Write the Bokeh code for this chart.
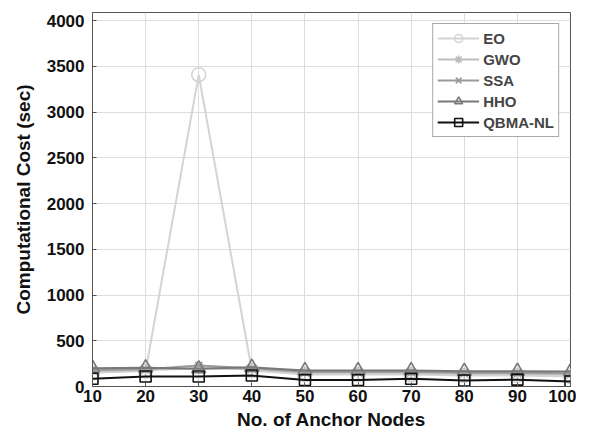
from bokeh.plotting import figure
from bokeh.models import Range1d, FixedTicker, Legend, LegendItem
from bokeh.embed import file_html
from bokeh.resources import INLINE

nodes = [10, 20, 30, 40, 50, 60, 70, 80, 90, 100]
eo = [150, 170, 3410, 175, 130, 130, 130, 120, 120, 110]
gwo = [170, 180, 200, 190, 150, 150, 150, 140, 140, 130]
ssa = [180, 190, 230, 200, 160, 160, 160, 150, 150, 145]
hho = [200, 205, 195, 210, 175, 175, 175, 168, 168, 163]
qbma = [85, 110, 110, 120, 70, 70, 85, 65, 75, 55]
y_ticks = [0, 500, 1000, 1500, 2000, 2500, 3000, 3500, 4000]

FONT = "Liberation Sans"

p = figure(width=576, height=432, output_backend="svg", toolbar_location=None,
           x_range=Range1d(10, 100), y_range=Range1d(0, 4090),
           min_border_left=92, min_border_right=6, min_border_top=12, min_border_bottom=46)
p.background_fill_color = "white"
p.outline_line_color = "#555555"
p.outline_line_width = 1

series = [
    ("EO", eo, "#d4d4d4", "circle", 14),
    ("GWO", gwo, "#bdbdbd", "asterisk", 12),
    ("SSA", ssa, "#9a9a9a", "x", 10),
    ("HHO", hho, "#787878", "triangle", 14),
    ("QBMA-NL", qbma, "#111111", "square", 11),
]
items = []
for name, ys, col, mk, sz in series:
    r1 = p.line(nodes, ys, line_color=col, line_width=2)
    r2 = p.scatter(nodes, ys, marker=mk, size=sz, line_color=col, fill_color=None, line_width=1.6)
    items.append(LegendItem(label=name, renderers=[r1, r2]))

leg = Legend(items=items, location="top_right")
leg.label_text_font = FONT
leg.label_text_font_style = "bold"
leg.label_text_font_size = "15px"
leg.glyph_width = 42
leg.glyph_height = 20
leg.spacing = 1
leg.label_height = 20
leg.padding = 4
leg.margin = 11
leg.border_line_color = "#555555"
leg.label_standoff = 4
p.add_layout(leg)

p.xaxis.ticker = FixedTicker(ticks=nodes)
p.yaxis.ticker = FixedTicker(ticks=y_ticks)
for ax in [p.xaxis, p.yaxis]:
    ax.major_label_text_font = FONT
    ax.major_label_text_font_style = "bold"
    ax.major_label_text_font_size = "17px"
    ax.axis_label_text_font = FONT
    ax.axis_label_text_font_style = "bold"
    ax.axis_label_text_font_size = "19px"
    ax.major_tick_in = 4
    ax.major_tick_out = 0
    ax.minor_tick_line_color = None
    ax.axis_line_color = "#555555"
    ax.major_tick_line_color = "#555555"
    ax.major_label_text_color = "#111111"
    ax.axis_label_text_color = "#111111"
p.xaxis.axis_label = "No. of Anchor Nodes"
p.yaxis.axis_label = "Computational Cost (sec)"
p.xaxis.major_label_standoff = 3
p.xaxis.axis_label_standoff = 4
p.yaxis.major_label_standoff = 8
p.yaxis.axis_label_standoff = 10

p.grid.grid_line_color = "#dddddd"
p.grid.grid_line_width = 1

open("out.html", "w").write(file_html(p, INLINE))
